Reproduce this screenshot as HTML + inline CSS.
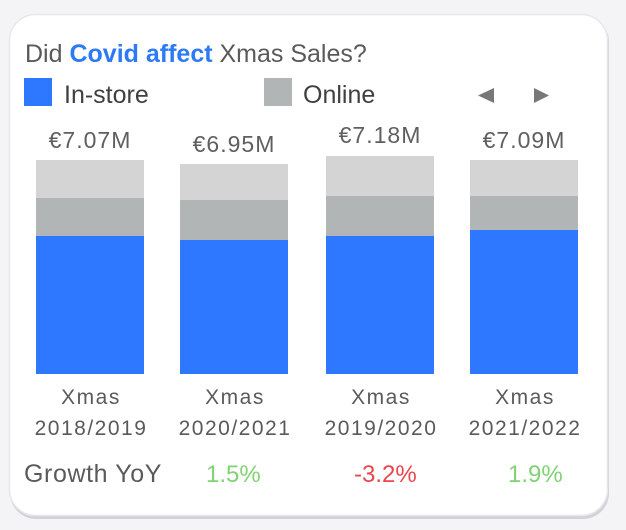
<!DOCTYPE html>
<html><head><meta charset="utf-8"><style>
html,body{margin:0;padding:0;background:#f4f4f7;}
svg{display:block;}
text{font-family:"Liberation Sans",sans-serif;}
</style></head><body>
<svg width="626" height="530" viewBox="0 0 626 530" xmlns="http://www.w3.org/2000/svg">
<rect width="626" height="530" fill="#f4f4f7"/>
<rect x="10" y="16" width="599" height="503" rx="26" fill="#d2d2d8"/>
<rect x="9.5" y="14.5" width="598" height="501" rx="26" fill="#ffffff" stroke="#e6e6ee" stroke-width="1.5"/>
<text x="25" y="62" font-size="25" fill="#5a5a5a">Did <tspan fill="#2d7af6" font-weight="bold">Covid affect</tspan> Xmas Sales?</text>
<rect x="24" y="78" width="28" height="28" fill="#2d78fe"/>
<text x="64" y="103" font-size="25" fill="#404040">In-store</text>
<rect x="264" y="78" width="28" height="28" fill="#b2b5b6"/>
<text x="303" y="103" font-size="25" fill="#404040">Online</text>
<polygon points="478,95.5 494,88 494,103" fill="#787878"/>
<polygon points="534,88 549,95.5 534,103" fill="#787878"/>
<!-- bars -->
<rect x="36" y="160" width="108" height="38" fill="#d4d4d4"/>
<rect x="36" y="198" width="108" height="38" fill="#b2b5b6"/>
<rect x="36" y="236" width="108" height="138" fill="#2d78fe"/>
<rect x="180" y="164" width="108" height="36" fill="#d4d4d4"/>
<rect x="180" y="200" width="108" height="40" fill="#b2b5b6"/>
<rect x="180" y="240" width="108" height="134" fill="#2d78fe"/>
<rect x="326" y="156" width="108" height="40" fill="#d4d4d4"/>
<rect x="326" y="196" width="108" height="40" fill="#b2b5b6"/>
<rect x="326" y="236" width="108" height="138" fill="#2d78fe"/>
<rect x="470" y="160" width="108" height="36" fill="#d4d4d4"/>
<rect x="470" y="196" width="108" height="34" fill="#b2b5b6"/>
<rect x="470" y="230" width="108" height="144" fill="#2d78fe"/>
<g font-size="23" fill="#5f5f5f" letter-spacing="1" text-anchor="middle">
<text x="90" y="148">€7.07M</text>
<text x="234" y="152">€6.95M</text>
<text x="380" y="143">€7.18M</text>
<text x="524" y="148">€7.09M</text>
</g>
<g font-size="21" fill="#5a5a5a" letter-spacing="1.5" text-anchor="middle">
<text x="91" y="404">Xmas</text><text x="91" y="435">2018/2019</text>
<text x="235" y="404">Xmas</text><text x="235" y="435">2020/2021</text>
<text x="381" y="404">Xmas</text><text x="381" y="435">2019/2020</text>
<text x="525" y="404">Xmas</text><text x="525" y="435">2021/2022</text>
</g>
<text x="24" y="482" font-size="25" letter-spacing="0.6" fill="#5a5a5a">Growth YoY</text>
<text x="206" y="482" font-size="24" fill="#7fd372">1.5%</text>
<text x="354" y="482" font-size="24" fill="#e8464e">-3.2%</text>
<text x="508" y="482" font-size="24" fill="#7fd372">1.9%</text>
</svg>
</body></html>
